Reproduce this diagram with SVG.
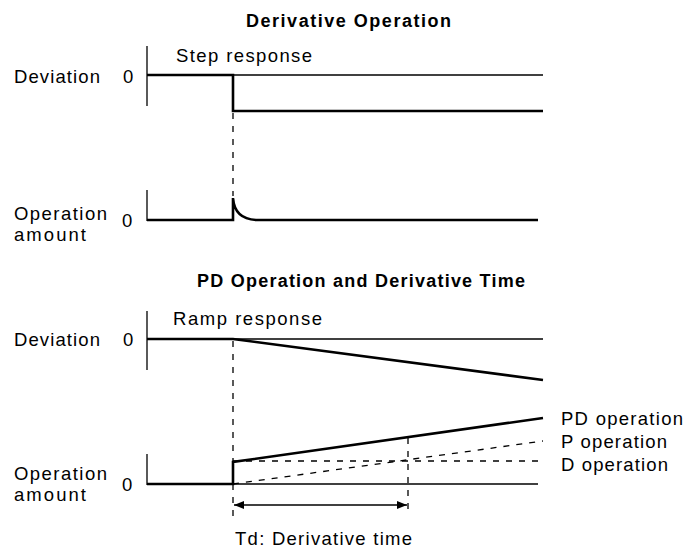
<svg xmlns="http://www.w3.org/2000/svg" width="686" height="549" viewBox="0 0 686 549">
<defs>
<style>
text{font-family:"Liberation Sans",Arial,sans-serif;font-size:18.5px;fill:#000}
.title{font-weight:bold;font-size:18px}
.thin{stroke:#000;stroke-width:1.3;fill:none}
.thick{stroke:#000;stroke-width:2.6;fill:none}
.dash{stroke:#000;stroke-width:1.3;fill:none;stroke-dasharray:6 7}
</style>
<marker id="ah" viewBox="0 0 10 8" refX="10" refY="4" markerWidth="10" markerHeight="8" markerUnits="userSpaceOnUse" orient="auto-start-reverse">
<path d="M0,0 L10,4 L0,8 Z" fill="#000"/>
</marker>
</defs>
<rect width="686" height="549" fill="#fff"/>

<g id="title1"><text class="title" x="246" y="27" textLength="205">Derivative Operation</text></g>
<g id="title2"><text class="title" x="197" y="287" textLength="328">PD Operation and Derivative Time</text></g>

<g id="labels">
<text x="14" y="83" textLength="86">Deviation</text>
<text x="123" y="83">0</text>
<text x="176" y="62" textLength="136">Step response</text>
<text x="14" y="220" textLength="93">Operation</text>
<text x="14" y="241" textLength="72">amount</text>
<text x="122" y="227">0</text>
<text x="14" y="346" textLength="86">Deviation</text>
<text x="123" y="346">0</text>
<text x="173" y="325" textLength="149">Ramp response</text>
<text x="14" y="480" textLength="93">Operation</text>
<text x="14" y="501" textLength="72">amount</text>
<text x="122" y="491">0</text>
<text x="561" y="425" textLength="122">PD operation</text>
<text x="561" y="448" textLength="106">P operation</text>
<text x="561" y="471" textLength="107">D operation</text>
<text x="235" y="545" textLength="177">Td: Derivative time</text>
</g>

<g id="step-chart">
<line class="thin" x1="147" y1="46" x2="147" y2="106"/>
<line class="thin" x1="147" y1="75" x2="543" y2="75"/>
<polyline class="thick" points="147,75 233,75 233,111 543,111"/>
<line class="thin" x1="147" y1="190" x2="147" y2="221"/>
<path class="thick" d="M147,220 L233,220 L233,198 C234,211 241,220 258,220 L538,220"/>
</g>

<g id="ramp-chart">
<line class="thin" x1="147" y1="311" x2="147" y2="370"/>
<line class="thin" x1="147" y1="339" x2="543" y2="339"/>
<polyline class="thick" points="147,339 233,339 543,380"/>
<line class="thin" x1="147" y1="454" x2="147" y2="485"/>
<line class="thin" x1="233" y1="484" x2="538" y2="484"/>
<polyline class="thick" points="147,484 233,484 233,462 543,418"/>
<line class="dash" x1="233" y1="484" x2="543" y2="441"/>
<line class="dash" x1="233" y1="461" x2="543" y2="461"/>
</g>

<g id="connectors">
<line class="dash" x1="233" y1="113" x2="233" y2="196"/>
<line class="dash" x1="233" y1="341" x2="233" y2="516"/>
<line class="dash" x1="408" y1="438" x2="408" y2="516"/>
<line class="thin" x1="234" y1="505" x2="407" y2="505" marker-start="url(#ah)" marker-end="url(#ah)"/>
</g>
</svg>
